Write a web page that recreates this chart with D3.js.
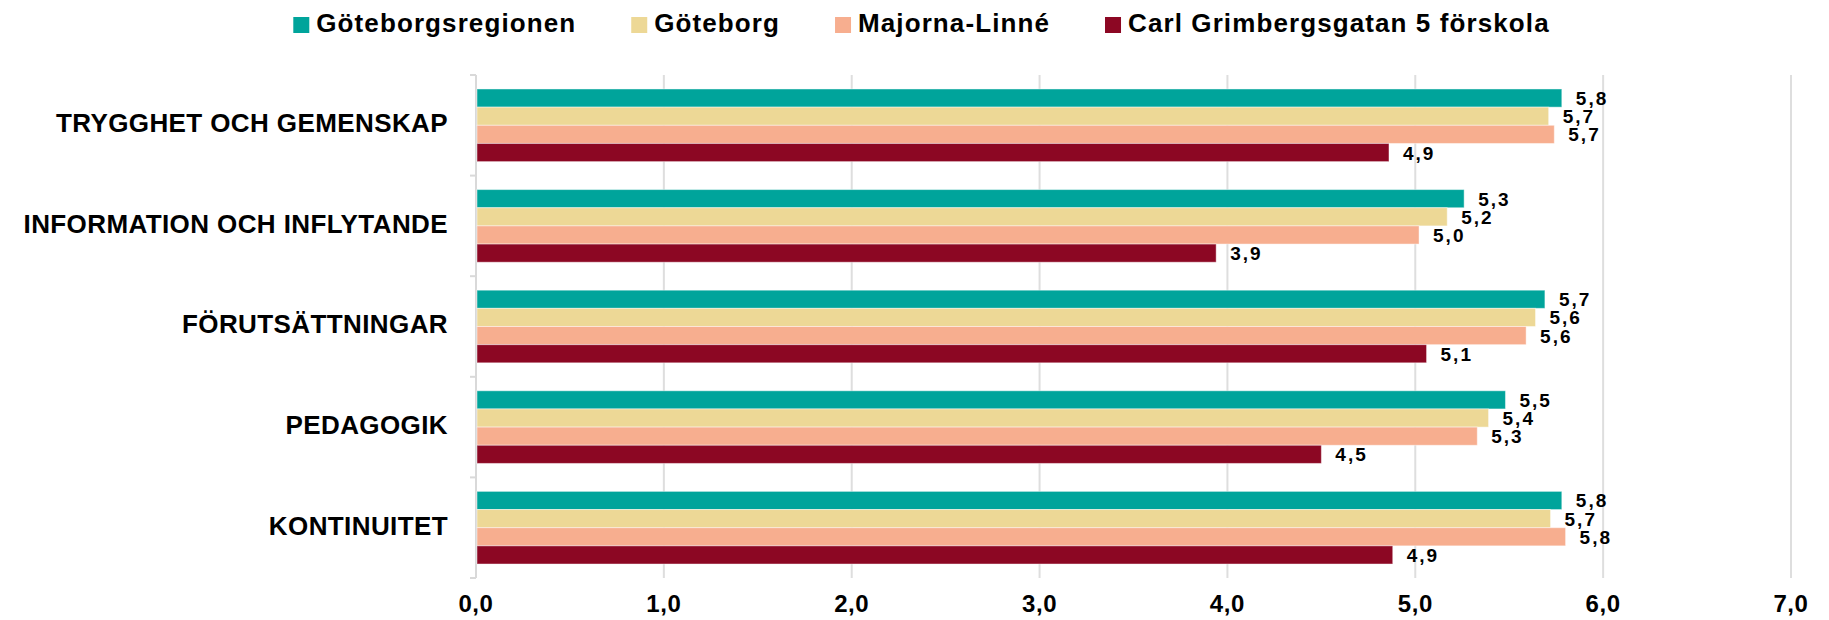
<!DOCTYPE html>
<html>
<head>
<meta charset="utf-8">
<script src="https://cdn.jsdelivr.net/npm/d3@7"></script>
<style>
  body { margin: 0; background: #fff; }
  text { font-family: "Liberation Sans", Arial, sans-serif; font-weight: bold; fill: #000; }
</style>
</head>
<body>
<div id="chart"></div>
<script>
// datos del grafico
const categories = [
  "TRYGGHET OCH GEMENSKAP",
  "INFORMATION OCH INFLYTANDE",
  "FÖRUTSÄTTNINGAR",
  "PEDAGOGIK",
  "KONTINUITET",
];
const seriesNames = [
  "Göteborgsregionen",
  "Göteborg",
  "Majorna-Linné",
  "Carl Grimbergsgatan 5 förskola",
];
const goteborgsregionen = [5.78, 5.26, 5.69, 5.48, 5.78];
const goteborg = [5.71, 5.17, 5.64, 5.39, 5.72];
const majornaLinne = [5.74, 5.02, 5.59, 5.33, 5.8];
const carlGrimbergsgatan = [4.86, 3.94, 5.06, 4.5, 4.88];
const xTicks = [0, 1, 2, 3, 4, 5, 6, 7];
const colors = ["#00a49b", "#edd896", "#f7ae8f", "#8c0723"];

const seriesValues = [goteborgsregionen, goteborg, majornaLinne, carlGrimbergsgatan];

const width = 1829;
const height = 620;
const margins = { top: 75, right: 38, bottom: 42, left: 476 };

const svg = d3
  .select("#chart")
  .append("svg")
  .attr("width", width)
  .attr("height", height);

const x = d3
  .scaleLinear()
  .domain([0, 7])
  .range([margins.left, width - margins.right]);

const y = d3
  .scaleBand()
  .domain(categories)
  .range([margins.top, height - margins.bottom])
  .padding(0);

const bw = y.bandwidth();
const y1 = d3
  .scaleBand()
  .domain(seriesNames)
  .range([bw * 0.139, bw * 0.861])
  .padding(0);

const fmt = (v) => d3.format(".1f")(v).replace(".", ",");

// lineas de la cuadricula
svg
  .append("g")
  .selectAll("line")
  .data(xTicks.slice(1))
  .join("line")
  .attr("x1", (d) => x(d))
  .attr("x2", (d) => x(d))
  .attr("y1", margins.top)
  .attr("y2", height - margins.bottom)
  .attr("stroke", "#dedede")
  .attr("stroke-width", 2);

// eje izquierdo con marcas entre categorias
const edges = categories.map((c) => y(c)).concat([height - margins.bottom]);
svg
  .append("line")
  .attr("x1", x(0))
  .attr("x2", x(0))
  .attr("y1", margins.top)
  .attr("y2", height - margins.bottom)
  .attr("stroke", "#d9d9d9")
  .attr("stroke-width", 2);
svg
  .append("g")
  .selectAll("line")
  .data(edges)
  .join("line")
  .attr("x1", x(0) - 6)
  .attr("x2", x(0))
  .attr("y1", (d) => d)
  .attr("y2", (d) => d)
  .attr("stroke", "#d9d9d9")
  .attr("stroke-width", 2);

// barras
const rows = [];
categories.forEach((c, i) => {
  seriesNames.forEach((s, j) => {
    rows.push({ cat: c, serie: s, value: seriesValues[j][i], color: colors[j] });
  });
});

const groups = svg.append("g");
groups
  .selectAll("rect")
  .data(rows)
  .join("rect")
  .attr("x", x(0) + 1)
  .attr("y", (d) => y(d.cat) + y1(d.serie))
  .attr("width", (d) => x(d.value) - x(0) - 1)
  .attr("height", y1.bandwidth())
  .attr("fill", (d) => d.color)
  .attr("stroke", "#fff")
  .attr("stroke-opacity", 0.45)
  .attr("stroke-width", 1);

// etiquetas de valores
groups
  .selectAll("text")
  .data(rows)
  .join("text")
  .attr("x", (d) => x(d.value) + 14)
  .attr("y", (d) => y(d.cat) + y1(d.serie) + y1.bandwidth() / 2 + 2)
  .attr("dominant-baseline", "middle")
  .style("font-size", "19px")
  .style("letter-spacing", "2px")
  .text((d) => fmt(d.value));

// etiquetas de categorias
svg
  .append("g")
  .selectAll("text")
  .data(categories)
  .join("text")
  .attr("x", x(0) - 28)
  .attr("y", (d) => y(d) + bw / 2)
  .attr("text-anchor", "end")
  .attr("dominant-baseline", "middle")
  .style("font-size", "26px")
  .style("letter-spacing", "0.4px")
  .text((d) => d);

// etiquetas del eje x
svg
  .append("g")
  .selectAll("text")
  .data(xTicks)
  .join("text")
  .attr("x", (d) => x(d))
  .attr("y", height - margins.bottom + 28)
  .attr("text-anchor", "middle")
  .attr("dominant-baseline", "middle")
  .style("font-size", "24px")
  .style("letter-spacing", "0.6px")
  .text((d) => fmt(d));

// leyenda centrada
const legend = svg.append("g");
const items = legend
  .selectAll("g")
  .data(seriesNames)
  .join("g");

items
  .append("rect")
  .attr("width", 16)
  .attr("height", 16)
  .attr("y", 17)
  .attr("fill", (d, i) => colors[i]);

items
  .append("text")
  .attr("x", 23)
  .attr("y", 25)
  .attr("dominant-baseline", "middle")
  .style("font-size", "26px")
  .style("letter-spacing", "1.1px")
  .text((d) => d);

let offset = 0;
items.each(function () {
  const w = 23 + d3.select(this).select("text").node().getComputedTextLength();
  d3.select(this).attr("transform", `translate(${offset},0)`);
  offset += w + 55;
});
const legendWidth = offset - 55;
legend.attr("transform", `translate(${(width - legendWidth) / 2 + 7},0)`);
</script>
</body>
</html>
